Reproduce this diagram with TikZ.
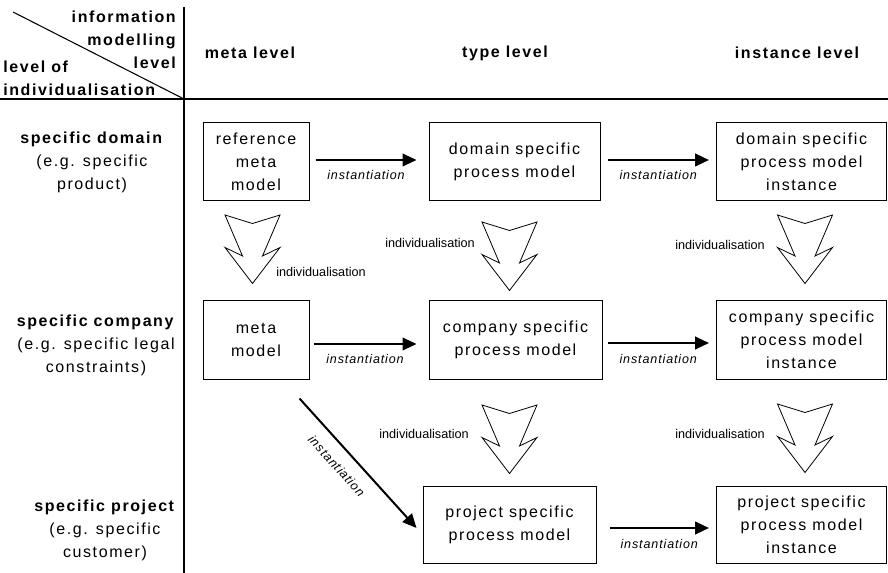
\documentclass[tikz,border=0pt]{standalone}
\usepackage{fontspec}
\setmainfont{Liberation Sans}[LetterSpace=10]
\newfontfamily\smallfont{Liberation Sans}
\newfontfamily\instfont{Liberation Sans}[LetterSpace=7]
\usetikzlibrary{arrows.meta}

\tikzset{
  model/.style={draw, line width=0.75pt, align=center, inner sep=0pt,
    minimum height=58.5pt, font=\fontsize{12}{17.25}\selectfont},
  head/.style={inner sep=0pt, font=\bfseries\fontsize{12}{17.25}\selectfont},
  rowlbl/.style={inner sep=0pt, align=center, font=\fontsize{12}{17.25}\selectfont},
  indlbl/.style={inner sep=0pt, font=\smallfont\fontsize{9.5}{11}\selectfont},
  instlbl/.style={inner sep=0pt, font=\instfont\itshape\fontsize{9.4}{11}\selectfont},
  inst/.style={line width=1.5pt, -{Triangle[length=10.5pt,width=9.5pt]}},
  rule/.style={line width=1pt},
  indiv/.pic={
    \draw[line width=0.6pt] (-27.5,0) -- (-10,41) -- (-27.5,32.5) -- (0,68.5)
      -- (27.5,32.5) -- (10,41) -- (27.5,0) -- (0,8.5) -- cycle;
  }
}

\begin{document}
\begin{tikzpicture}[x=0.75pt,y=-0.75pt]
\useasboundingbox (0,0) rectangle (888,573);

% table rules
\draw[rule] (0,99) -- (888,99);
\draw[rule] (184,7) -- (184,573);
\draw[line width=0.8pt] (13,12) -- (184,99);

% corner and column heads
\node[head, anchor=north east, align=right] (infolevel) at (176,11) {information\\modelling\\level};
\node[head, anchor=south west, align=left] (indivlevel) at (3,96) {level of\\individualisation};
\node[head] (metacol) at (250,53) {meta level};
\node[head] (typecol) at (505,53) {type level};
\node[head] (instcol) at (797,53) {instance level};

% row heads
\node[rowlbl] (domain) at (92,162) {\textbf{specific domain}\\(e.g. specific\\product)};
\node[rowlbl] (company) at (96,345) {\textbf{specific company}\\(e.g. specific legal\\constraints)};
\node[rowlbl] (project) at (105,530) {\textbf{specific project}\\(e.g. specific\\customer)};

% models
\node[model, minimum width=79.5pt] (refmeta) at (256,162) {reference\\meta\\model};
\node[model, minimum width=128.25pt] (domtype) at (514.5,162) {domain specific\\process model};
\node[model, minimum width=127.5pt] (dominst) at (801.5,162) {domain specific\\process model\\instance};
\node[model, minimum width=79.5pt] (meta) at (256,340) {meta\\model};
\node[model, minimum width=129.75pt] (comptype) at (515.5,340) {company specific\\process model};
\node[model, minimum width=127.5pt] (compinst) at (801.5,340) {company specific\\process model\\instance};
\node[model, minimum width=129.75pt, minimum height=57.75pt] (projtype) at (509.5,524.5) {project specific\\process model};
\node[model, minimum width=127.5pt, minimum height=57.75pt] (projinst) at (801.5,524.5) {project specific\\process model\\instance};

% instantiation arrows
\draw[inst] ([shift={(6,-2)}]refmeta.east) -- node[instlbl, midway, yshift=-11.25pt] {instantiation} ([shift={(-12,-2)}]domtype.west);
\draw[inst] ([shift={(7,-2)}]domtype.east) -- node[instlbl, midway, yshift=-11.25pt] {instantiation} ([shift={(-7,-2)}]dominst.west);
\draw[inst] ([shift={(4,4)}]meta.east) -- node[instlbl, midway, yshift=-11.25pt] {instantiation} ([shift={(-12,4)}]comptype.west);
\draw[inst] ([shift={(5,3)}]comptype.east) -- node[instlbl, midway, yshift=-11.75pt] {instantiation} ([shift={(-7,3)}]compinst.west);
\draw[inst] ([shift={(13,3.5)}]projtype.east) -- node[instlbl, midway, yshift=-11.75pt] {instantiation} ([shift={(-7,3.5)}]projinst.west);
\coordinate (dstart) at ([shift={(-10,19)}]meta.south east);
\draw[inst] (dstart) -- node[instlbl, pos=.43, sloped, below=9pt] {instantiation} ([shift={(-6,3.5)}]projtype.west);

% individualisation arrows
\pic at (252.5,215) {indiv};
\pic at (509.5,222) {indiv};
\pic at (805,215) {indiv};
\pic at (509.5,405) {indiv};
\pic at (805,404) {indiv};
\node[indlbl, anchor=west] (indiv1) at (276,272) {individualisation};
\node[indlbl, anchor=east] (indiv2) at (475,243) {individualisation};
\node[indlbl, anchor=east] (indiv3) at (765,245) {individualisation};
\node[indlbl, anchor=east] (indiv4) at (469,434) {individualisation};
\node[indlbl, anchor=east] (indiv5) at (765,434) {individualisation};
\end{tikzpicture}
\end{document}
